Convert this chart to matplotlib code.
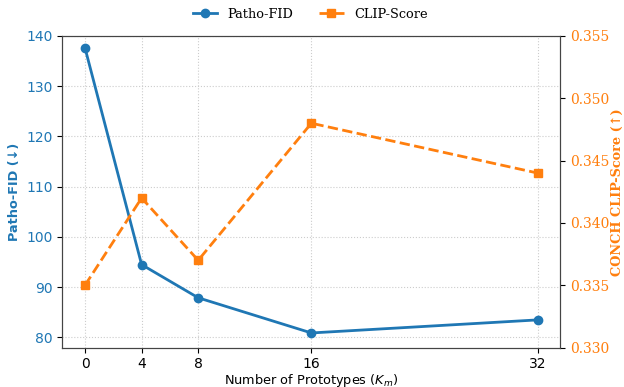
import matplotlib.pyplot as plt

# Data
prototypes = [0, 4, 8, 16, 32]
patho_fid = [137.6, 94.5, 87.9, 80.9, 83.5]
clip_score = [0.335, 0.342, 0.337, 0.348, 0.344]
left_ticks = [80, 90, 100, 110, 120, 130, 140]
right_ticks = [0.330, 0.335, 0.340, 0.345, 0.350, 0.355]

blue = '#1f77b4'
orange = '#ff7f0e'

fig, ax1 = plt.subplots(figsize=(6.24, 3.87), dpi=100)

l1, = ax1.plot(prototypes, patho_fid, color=blue, marker='o', markersize=6,
               linewidth=2, label='Patho-FID')
ax1.set_ylim(78, 140)
ax1.set_yticks(left_ticks)
ax1.set_xticks(prototypes)
ax1.tick_params(axis='y', labelcolor=blue, labelsize=10)
ax1.tick_params(axis='x', labelsize=10, pad=3)
ax1.set_xlabel('Number of Prototypes ($K_m$)', fontsize=9.3, labelpad=1)
ax1.set_ylabel('Patho-FID (↓)', color=blue, fontsize=9.3, fontweight='bold',
               labelpad=4)
ax1.grid(True, linestyle=':', color='#cccccc', linewidth=0.8)

ax2 = ax1.twinx()
l2, = ax2.plot(prototypes, clip_score, color=orange, marker='s', markersize=6,
               linewidth=2, linestyle='--', label='CLIP-Score')
ax2.set_ylim(0.330, 0.355)
ax2.set_yticks(right_ticks)
ax2.set_yticklabels([f'{v:.3f}' for v in right_ticks], family='DejaVu Serif')
ax2.tick_params(axis='y', labelcolor=orange, labelsize=10)
ax2.set_ylabel('CONCH CLIP-Score (↑)', color=orange, fontsize=9.3,
               fontweight='bold', family='DejaVu Serif', labelpad=1)

for ax in (ax1, ax2):
    for s in ax.spines.values():
        s.set_color('#444444')

fig.legend(handles=[l1, l2], loc='upper center', ncol=2, frameon=False,
           bbox_to_anchor=(0.497, 1.01), prop={'family': 'DejaVu Serif', 'size': 9.3},
           columnspacing=2.0, handlelength=1.9)

fig.subplots_adjust(left=0.1, right=0.898, top=0.907, bottom=0.102)
plt.savefig('out.png', dpi=100)
